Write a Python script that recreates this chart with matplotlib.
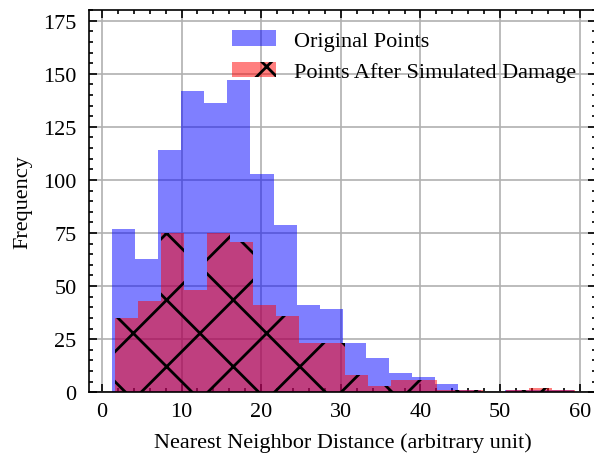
import matplotlib
matplotlib.use("Agg")
import matplotlib.pyplot as plt
import numpy as np
from matplotlib.ticker import MultipleLocator

# histogram counts per bin
original_counts = [77, 63, 114, 142, 136, 147, 103, 79, 41, 39,
                   23, 16, 9, 7, 4, 1, 0, 1, 1, 1]
damaged_counts = [35, 43, 75, 48, 75, 71, 41, 36, 23, 23,
                  8, 3, 6, 6, 1, 1, 0, 1, 2, 1]

# bin edges (20 bins each)
original_edges = np.linspace(1.25, 59.25, 21)
damaged_edges = np.linspace(1.6, 59.4, 21)

plt.rcParams['font.family'] = ['Liberation Serif', 'DejaVu Serif']
plt.rcParams['font.size'] = 8
plt.rcParams['axes.linewidth'] = 0.6
plt.rcParams['hatch.linewidth'] = 1.0
for ax_name in ['xtick', 'ytick']:
	plt.rcParams[ax_name + '.direction'] = 'in'
	plt.rcParams[ax_name + '.major.size'] = 3
	plt.rcParams[ax_name + '.major.width'] = 0.6
	plt.rcParams[ax_name + '.minor.size'] = 1.5
	plt.rcParams[ax_name + '.minor.width'] = 0.6
	plt.rcParams[ax_name + '.minor.visible'] = True
plt.rcParams['xtick.top'] = True
plt.rcParams['ytick.right'] = True

fig = plt.figure(figsize=(2.97, 2.3), dpi=200)
ax = fig.add_axes([0.1498, 0.145, 0.8535, 0.831])

centers_o = (original_edges[:-1] + original_edges[1:]) / 2
centers_d = (damaged_edges[:-1] + damaged_edges[1:]) / 2

ax.hist(centers_o, bins=original_edges, weights=original_counts,
	color='blue', alpha=0.5, label='Original Points')
ax.hist(centers_d, bins=damaged_edges, weights=damaged_counts,
	color='red', alpha=0.5, hatch='x', label='Points After Simulated Damage')

ax.set_xlim(-1.62, 62.03)
ax.set_ylim(0, 180)
ax.xaxis.set_major_locator(MultipleLocator(10))
ax.xaxis.set_minor_locator(MultipleLocator(2))
ax.yaxis.set_major_locator(MultipleLocator(25))
ax.yaxis.set_minor_locator(MultipleLocator(5))
ax.tick_params(axis='y', which='major', pad=4.5)

ax.grid(True, which='major', color='#b0b0b0', linewidth=0.6)
ax.set_axisbelow(True)

ax.set_xlabel('Nearest Neighbor Distance (arbitrary unit)')
ax.set_ylabel('Frequency')
ax.legend(loc='upper right', frameon=False)

fig.savefig('out.png', dpi=200)
